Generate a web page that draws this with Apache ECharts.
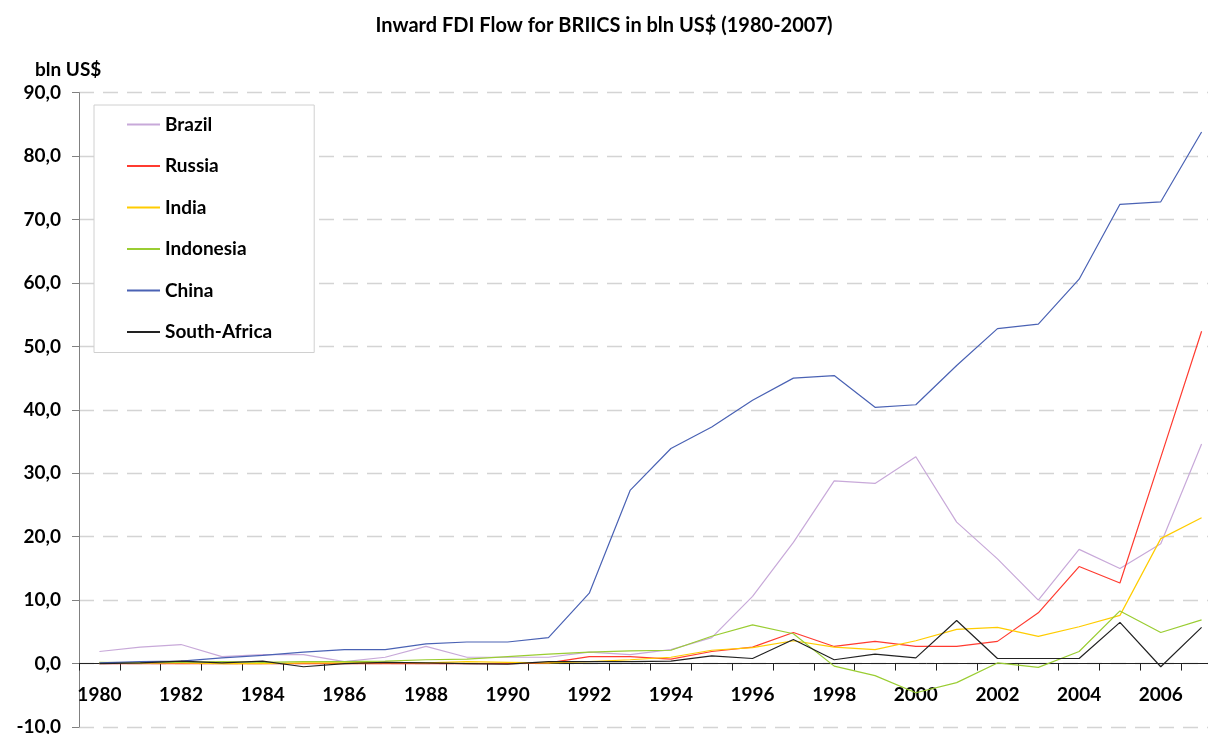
<!DOCTYPE html>
<html>
<head>
<meta charset="utf-8">
<script src="https://cdn.jsdelivr.net/npm/echarts@6/dist/echarts.min.js"></script>
<style>
html,body{margin:0;padding:0;background:#fff;}
#chart{width:1208px;height:734px;}
</style>
</head>
<body>
<div id="chart"></div>
<script>
var years = ['1980','1981','1982','1983','1984','1985','1986','1987','1988','1989','1990','1991','1992','1993','1994','1995','1996','1997','1998','1999','2000','2001','2002','2003','2004','2005','2006','2007'];
var brazil = [1.9, 2.6, 3.0, 1.1, 1.4, 1.4, 0.3, 1.0, 2.7, 1.0, 1.0, 1.0, 1.8, 1.4, 2.2, 4.1, 10.6, 19.1, 28.8, 28.4, 32.6, 22.3, 16.5, 10.0, 18.0, 15.0, 18.9, 34.6];
var russia = [0, 0, 0, 0, 0, 0, 0, 0, 0, 0, 0, 0.1, 1.1, 1.1, 0.7, 1.9, 2.6, 4.9, 2.7, 3.5, 2.7, 2.7, 3.5, 8.0, 15.3, 12.7, 32.5, 52.4];
var india = [0.1, 0.1, 0.1, 0.0, 0.0, 0.1, 0.1, 0.2, 0.1, 0.3, 0.2, 0.1, 0.3, 0.6, 1.0, 2.1, 2.5, 3.6, 2.6, 2.2, 3.6, 5.4, 5.7, 4.3, 5.8, 7.6, 19.7, 23.0];
var indonesia = [0.2, 0.1, 0.2, 0.3, 0.2, 0.3, 0.3, 0.4, 0.6, 0.7, 1.1, 1.5, 1.8, 2.0, 2.1, 4.3, 6.1, 4.7, -0.4, -1.9, -4.6, -3.0, 0.1, -0.6, 1.9, 8.3, 4.9, 6.9];
var china = [0.1, 0.3, 0.4, 0.9, 1.3, 1.8, 2.2, 2.2, 3.1, 3.4, 3.4, 4.1, 11.1, 27.3, 33.9, 37.3, 41.5, 45.0, 45.4, 40.4, 40.8, 47.0, 52.8, 53.5, 60.6, 72.4, 72.8, 83.8];
var southAfrica = [0.0, 0.1, 0.4, 0.1, 0.4, -0.5, 0.0, 0.2, 0.1, 0.0, -0.1, 0.3, 0.3, 0.3, 0.4, 1.2, 0.8, 3.8, 0.6, 1.5, 0.9, 6.8, 0.8, 0.8, 0.8, 6.5, -0.5, 5.7];

var seriesNames = ['Brazil','Russia','India','Indonesia','China','South-Africa'];
var seriesData = [brazil, russia, india, indonesia, china, southAfrica];
var seriesColors = ['#c8a9d9','#ff3b30','#ffcc00','#9acd32','#4a62b4','#222222'];

var FONT = 'Lato';
var yMin = -10, yMax = 90, gridTop = 92.7, gridBottom = 7, chartH = 734;
var plotH = chartH - gridTop - gridBottom;
var zeroOffset = -plotH * (0 - yMin) / (yMax - yMin);

var chart = echarts.init(document.getElementById('chart'), null, {renderer:'canvas'});
var option = {
  backgroundColor:'#ffffff',
  animation:false,
  title:[
    {text:'Inward FDI Flow for BRIICS in bln US$ (1980-2007)', left:'center', top:11,
     textStyle:{fontFamily:FONT, fontWeight:'bold', fontSize:20, color:'#000'}},
    {text:'bln US$', left:30, top:55,
     textStyle:{fontFamily:FONT, fontWeight:'bold', fontSize:19, color:'#000'}}
  ],
  legend:{
    orient:'vertical', left:94, top:105,
    padding:[10,42,11,33], itemGap:22.5, itemWidth:33, itemHeight:2,
    icon:'rect',
    backgroundColor:'#ffffff', borderColor:'#d0d0d0', borderWidth:1,
    textStyle:{fontFamily:FONT, fontWeight:'bold', fontSize:19, color:'#000'},
    data:seriesNames.map(function(n,i){return {name:n, icon:'rect', itemStyle:{color:seriesColors[i]}};})
  },
  grid:{left:79, right:-14, top:gridTop, bottom:gridBottom, containLabel:false, outerBoundsMode:'none'},
  xAxis:{
    type:'category', data:years, boundaryGap:true, position:'bottom', offset:zeroOffset,
    axisLine:{onZero:false, lineStyle:{color:'#222', width:1}},
    axisTick:{show:true, interval:0, length:7, lineStyle:{color:'#222'}},
    axisLabel:{interval:1, margin:22, fontFamily:FONT, fontWeight:'bold', fontSize:19, color:'#000'},
    splitLine:{show:false}
  },
  yAxis:{
    type:'value', min:yMin, max:yMax, interval:10,
    axisLine:{show:true, lineStyle:{color:'#808080', width:1}},
    axisTick:{show:true, length:7, lineStyle:{color:'#808080'}},
    axisLabel:{margin:18, fontFamily:FONT, fontWeight:'bold', fontSize:19, color:'#000',
      formatter:function(v){return v.toFixed(1).replace('.', ',');}},
    splitLine:{show:true, lineStyle:{color:'#d4d4d4', width:1.3, type:[15,9]}}
  },
  series: seriesNames.map(function(n,i){
    return {name:n, type:'line', data:seriesData[i], symbol:'none', showSymbol:false, smooth:false,
      lineStyle:{color:seriesColors[i], width:1.2}, itemStyle:{color:seriesColors[i]}, z:2+i};
  })
};
chart.setOption(option);
</script>
</body>
</html>
